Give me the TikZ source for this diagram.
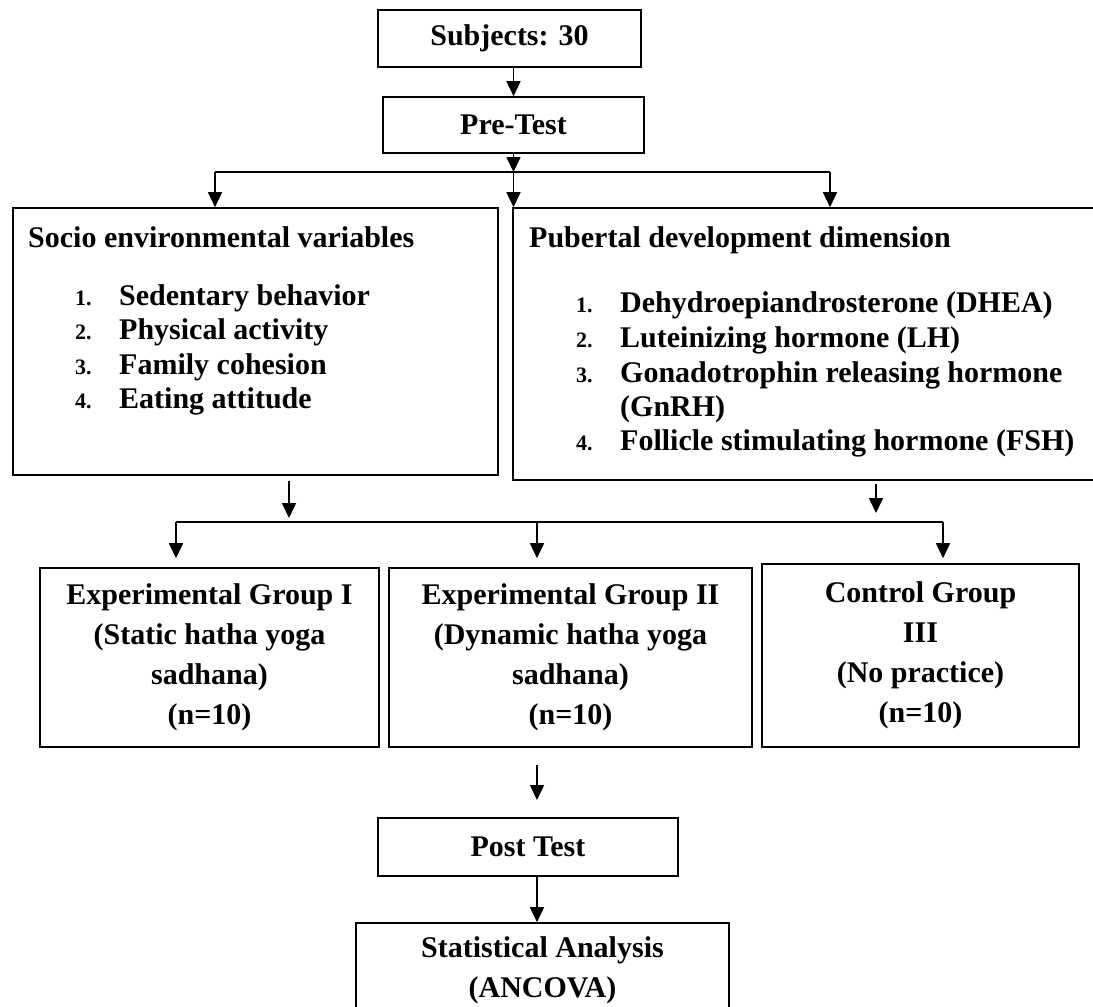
\documentclass[tikz,border=0pt]{standalone}
\usepackage{fontspec}
\setmainfont{Liberation Serif}
\usetikzlibrary{arrows.meta}
\begin{document}
\begin{tikzpicture}[x=1pt,y=-1pt,
  box/.style={draw=black, line width=1.6pt, rectangle, inner sep=0pt, align=center,
              font=\fontsize{30}{40}\selectfont\bfseries},
  arr/.style={-{Triangle[width=14pt,length=15pt]}, line width=1.6pt},
  ln/.style={line width=1.6pt},
  hd/.style={inner sep=0pt, anchor=base west, font=\fontsize{30}{36}\selectfont\bfseries},
  num/.style={inner sep=0pt, anchor=base west, font=\fontsize{22}{26}\selectfont\bfseries},
  itm/.style={inner sep=0pt, anchor=base west, font=\fontsize{30}{36}\selectfont\bfseries}]
\useasboundingbox (0,0) rectangle (1093,1007);
\begin{scope}
\clip (0,0) rectangle (1093,1007);

% top boxes
\node[box, minimum width=263pt, minimum height=57pt] (subj) at (509.5,38.5) {Subjects: 30};
\node[box, minimum width=261pt, minimum height=56pt] (pre) at (513.5,125) {Pre-Test};

% big boxes
\node[draw=black, line width=1.6pt, rectangle, minimum width=485pt, minimum height=267pt, inner sep=0pt] (socio) at (255.5,341.5) {};
\node[draw=black, line width=1.6pt, rectangle, minimum width=597pt, minimum height=272pt, inner sep=0pt] (puber) at (811.5,344) {};

\node[hd] (sh) at (28,247) {Socio environmental variables};
\node[num] (sn1) at (75,305) {1.};
\node[itm] (si1) at (119,305) {Sedentary behavior};
\node[num] (sn2) at (75,339.5) {2.};
\node[itm] (si2) at (119,339.5) {Physical activity};
\node[num] (sn3) at (75,374) {3.};
\node[itm] (si3) at (119,374) {Family cohesion};
\node[num] (sn4) at (75,408.5) {4.};
\node[itm] (si4) at (119,408.5) {Eating attitude};

\node[hd] (ph) at (529,247) {Pubertal development dimension};
\node[num] (pn1) at (576,312) {1.};
\node[itm] (pi1) at (620,312) {Dehydroepiandrosterone (DHEA)};
\node[num] (pn2) at (576,347) {2.};
\node[itm] (pi2) at (620,347) {Luteinizing hormone (LH)};
\node[num] (pn3) at (576,382) {3.};
\node[itm] (pi3) at (620,382) {Gonadotrophin releasing hormone};
\node[itm] (pi3b) at (620,416) {(GnRH)};
\node[num] (pn4) at (576,450) {4.};
\node[itm] (pi4) at (620,450) {Follicle stimulating hormone (FSH)};

% group boxes
\node[box, minimum width=339pt, minimum height=179pt] (g1) at (209.5,657.5)
  {Experimental Group I\\(Static hatha yoga\\sadhana)\\(n=10)};
\node[box, minimum width=363pt, minimum height=179pt] (g2) at (570.5,657.5)
  {Experimental Group II\\(Dynamic hatha yoga\\sadhana)\\(n=10)};
\node[box, minimum width=317pt, minimum height=183pt] (g3) at (920.5,655.5)
  {Control Group\\III\\(No practice)\\(n=10)};

% bottom boxes
\node[box, minimum width=300pt, minimum height=58pt] (post) at (528,847) {Post Test};
\node[box, minimum width=373pt, minimum height=94pt] (stats) at (542.5,970)
  {Statistical Analysis\\(ANCOVA)};

% coordinates
\coordinate (jt) at (513.5,172);
\coordinate (jl) at (215,172);
\coordinate (jr) at (830,172);
\coordinate (sa) at (289,518);
\coordinate (pa) at (876,513);
\coordinate (gl) at (176,522);
\coordinate (gm) at (537,522);
\coordinate (gr) at (943,522);
\coordinate (pt) at (537,800);

% connectors
\draw[arr] (subj.south -| pre.north) -- (pre.north);
\draw[arr] (pre.south) -- (jt);
\draw[ln] (jl) -- (jr);
\draw[arr] (jl) -- (jl |- socio.north);
\draw[arr] (jt) -- (jt |- puber.north);
\draw[arr] (jr) -- (jr |- puber.north);

\draw[arr] ([yshift=-5pt]socio.south -| sa) -- (sa);
\draw[arr] ([yshift=-3pt]puber.south -| pa) -- (pa);
\draw[ln] (gl) -- (gr);
\draw[arr, shorten >=9pt] (gl) -- (gl |- g1.north);
\draw[arr, shorten >=9pt] (gm) -- (gm |- g2.north);
\draw[arr, shorten >=5pt] (gr) -- (gr |- g3.north);

\draw[arr] ([yshift=-17pt]g2.south -| pt) -- (pt);
\draw[arr] (post.south -| pt) -- (stats.north -| pt);
\end{scope}
\end{tikzpicture}
\end{document}
